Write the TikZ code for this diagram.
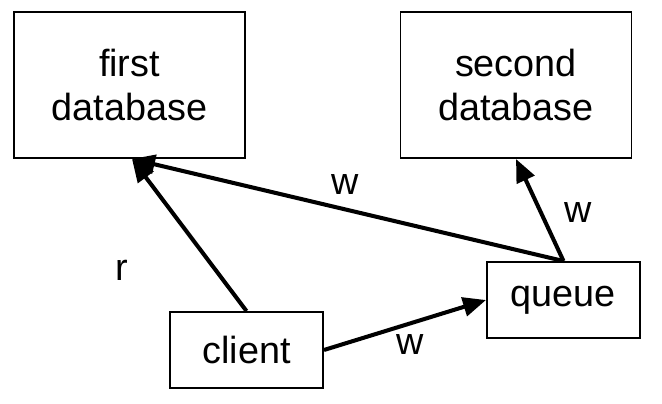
\documentclass[tikz,border=0pt]{standalone}
\usepackage{fontspec}
\setmainfont{Liberation Sans}
\usetikzlibrary{arrows.meta}

\begin{document}
\begin{tikzpicture}[
  font=\fontsize{21.5}{25.5}\selectfont,
  dbbox/.style={draw,line width=1.1pt,minimum width=4.62cm,minimum height=2.92cm,
                align=center,inner sep=0pt},
  procbox/.style={draw,line width=1.1pt,minimum width=3.06cm,minimum height=1.52cm,
                  align=center,inner sep=0pt},
  arr/.style={-{Triangle[length=0.46cm,width=0.38cm]},line width=2.3pt},
  lbl/.style={inner sep=0pt},
]

% ---- Canvas -----------------------------------------------------------------
\useasboundingbox[fill=white] (0,0) rectangle (13.24,-8.08);

% ---- Databases --------------------------------------------------------------
\node[dbbox] (firstdb)  at (2.59,-1.70)  {first\\database};
\node[dbbox] (seconddb) at (10.32,-1.70) {second\\database};

% ---- Client and queue -------------------------------------------------------
\node[procbox] (queue)  at (11.27,-6.00) {queue};
\node[procbox] (client) at (4.93,-7.00)  {client};

% ---- Connectors -------------------------------------------------------------
\draw[arr] (client.north) -- ([xshift=0.05cm]firstdb.south);
\draw[arr] (client.east)  -- (queue.west);
\draw[arr] (queue.north)  -- ([xshift=0.05cm]firstdb.south);
\draw[arr] (queue.north)  -- (seconddb.south);

% ---- Edge labels ------------------------------------------------------------
\node[lbl] (lblr)    at (2.44,-5.40)  {r};
\node[lbl] (lblw1)   at (6.90,-3.70)  {w};
\node[lbl] (lblw2)   at (11.56,-4.26) {w};
\node[lbl] (lblw3)   at (8.20,-6.90)  {w};

\end{tikzpicture}
\end{document}
